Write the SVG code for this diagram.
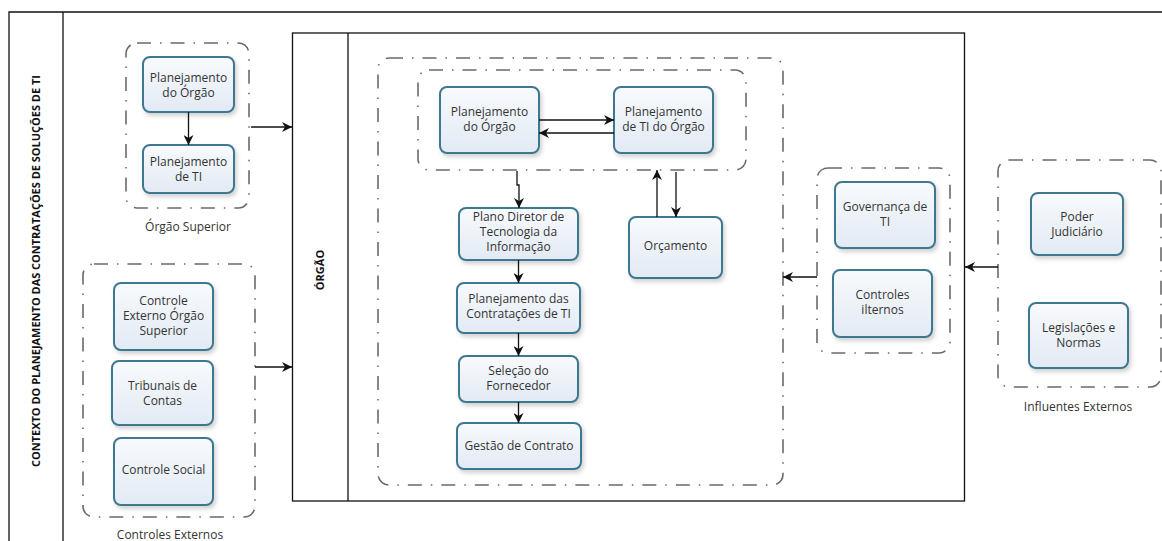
<svg xmlns="http://www.w3.org/2000/svg" width="1162" height="541" viewBox="0 0 1162 541">
<defs>
<linearGradient id="nf" x1="0" y1="0" x2="0" y2="1">
<stop offset="0" stop-color="#f8fafd"/>
<stop offset="1" stop-color="#e2eaf4"/>
</linearGradient>
<filter id="sh" x="-10%" y="-10%" width="130%" height="140%">
<feDropShadow dx="2" dy="3" stdDeviation="2" flood-color="#000" flood-opacity="0.18"/>
</filter>
<marker id="ah" viewBox="0 0 10 10" refX="10" refY="5" markerWidth="10" markerHeight="10" markerUnits="userSpaceOnUse" orient="auto">
<path d="M0,0 L10,5 L0,10 L3,5 Z" fill="#111"/>
</marker>
</defs>
<style>
.frame{fill:none;stroke:#111;stroke-width:1.3}
.grp{fill:none;stroke:#6a6a6a;stroke-width:1.6;stroke-dasharray:14 9 1.5 9}
.node rect{fill:url(#nf);stroke:#3d7890;stroke-width:2;filter:url(#sh)}
.node text,.lbl{font-family:"Open Sans","Noto Sans",sans-serif;font-size:12px;fill:#333;text-anchor:middle}
.title{font-family:"Open Sans","Noto Sans",sans-serif;font-size:11px;font-weight:bold;fill:#111;text-anchor:middle}
.conn path{fill:none;stroke:#111;stroke-width:1.3;marker-end:url(#ah)}
</style>
<rect width="1162" height="541" fill="#fff"/>

<g id="frame">
<path class="frame" d="M1170,12 H9 V550"/>
<line class="frame" x1="63" y1="12" x2="63" y2="550"/>
<text class="title" transform="translate(40,271) rotate(-90)" textLength="392" lengthAdjust="spacingAndGlyphs">CONTEXTO DO PLANEJAMENTO DAS CONTRATAÇÕES DE SOLUÇÕES DE TI</text>
</g>

<g id="orgao">
<rect class="frame" x="292.5" y="33" width="672" height="468"/>
<line class="frame" x1="348" y1="33" x2="348" y2="501"/>
<text class="title" transform="translate(324,270) rotate(-90)">ÓRGÃO</text>
</g>

<g id="grp-orgao-superior">
<rect class="grp" x="126" y="43" width="123" height="165" rx="11"/>
<text class="lbl" x="188" y="231">Órgão Superior</text>
</g>
<g id="grp-controles-externos">
<rect class="grp" x="83" y="264" width="172" height="253" rx="11"/>
<text class="lbl" x="170" y="539">Controles Externos</text>
</g>
<g id="grp-orgao-inner">
<rect class="grp" x="378" y="58" width="405" height="427" rx="11"/>
</g>
<g id="grp-planejamento">
<rect class="grp" x="418" y="70" width="328" height="100" rx="11"/>
</g>
<g id="grp-controles-internos">
<rect class="grp" x="817" y="168" width="133" height="185" rx="11"/>
</g>
<g id="grp-influentes">
<rect class="grp" x="998" y="160" width="163" height="227" rx="11"/>
<text class="lbl" x="1078" y="411">Influentes Externos</text>
</g>

<g id="n-sup-plan-orgao" class="node">
<rect x="143" y="57" width="91" height="55" rx="7"/>
<text x="188.5" y="82">Planejamento</text><text x="188.5" y="97">do Órgão</text>
</g>
<g id="n-sup-plan-ti" class="node">
<rect x="143" y="145" width="91" height="48" rx="7"/>
<text x="188.5" y="166">Planejamento</text><text x="188.5" y="181">de TI</text>
</g>
<g id="n-controle-externo" class="node">
<rect x="114" y="283" width="99" height="67" rx="7"/>
<text x="163.5" y="305">Controle</text><text x="163.5" y="320">Externo Órgão</text><text x="163.5" y="335">Superior</text>
</g>
<g id="n-tribunais" class="node">
<rect x="112" y="361" width="101" height="64" rx="7"/>
<text x="162.5" y="390">Tribunais de</text><text x="162.5" y="405">Contas</text>
</g>
<g id="n-controle-social" class="node">
<rect x="114" y="438" width="99" height="67" rx="7"/>
<text x="163.5" y="474">Controle Social</text>
</g>
<g id="n-plan-orgao" class="node">
<rect x="440" y="87" width="99" height="66" rx="7"/>
<text x="489.5" y="116">Planejamento</text><text x="489.5" y="131">do Órgão</text>
</g>
<g id="n-plan-ti-orgao" class="node">
<rect x="614" y="87" width="99" height="66" rx="7"/>
<text x="663.5" y="116">Planejamento</text><text x="663.5" y="131">de TI do Órgão</text>
</g>
<g id="n-pdti" class="node">
<rect x="459" y="208" width="119" height="52" rx="7"/>
<text x="518.5" y="221">Plano Diretor de</text><text x="518.5" y="236">Tecnologia da</text><text x="518.5" y="251">Informação</text>
</g>
<g id="n-orcamento" class="node">
<rect x="629" y="217" width="93" height="61" rx="7"/>
<text x="675.5" y="250">Orçamento</text>
</g>
<g id="n-plan-contratacoes" class="node">
<rect x="457" y="283" width="123" height="50" rx="7"/>
<text x="518.5" y="303">Planejamento das</text><text x="518.5" y="318">Contratações de TI</text>
</g>
<g id="n-selecao" class="node">
<rect x="459" y="356" width="119" height="46" rx="7"/>
<text x="518.5" y="375">Seleção do</text><text x="518.5" y="390">Fornecedor</text>
</g>
<g id="n-gestao" class="node">
<rect x="457" y="423" width="124" height="46" rx="7"/>
<text x="519" y="450">Gestão de Contrato</text>
</g>
<g id="n-governanca" class="node">
<rect x="835" y="182" width="100" height="66" rx="7"/>
<text x="885" y="211">Governança de</text><text x="885" y="226">TI</text>
</g>
<g id="n-controles-internos" class="node">
<rect x="833" y="270" width="99" height="67" rx="7"/>
<text x="882.5" y="299">Controles</text><text x="882.5" y="314">ilternos</text>
</g>
<g id="n-poder" class="node">
<rect x="1031" y="193" width="92" height="62" rx="7"/>
<text x="1077" y="221">Poder</text><text x="1077" y="236">Judiciário</text>
</g>
<g id="n-legislacoes" class="node">
<rect x="1029" y="303" width="99" height="65" rx="7"/>
<text x="1078.5" y="332">Legislações e</text><text x="1078.5" y="347">Normas</text>
</g>

<g id="connectors" class="conn">
<path d="M188.5,112 V145"/>
<path d="M251,127 H292"/>
<path d="M255,367 H292"/>
<path d="M539,120 H614"/>
<path d="M614,133 H539"/>
<path d="M517,171 V185 H519 V208"/>
<path d="M657,217 V170"/>
<path d="M676,172 V217"/>
<path d="M518.5,260 V283"/>
<path d="M518.5,333 V356"/>
<path d="M518.5,402 V423"/>
<path d="M817,277 H783"/>
<path d="M998,267 H965"/>
</g>
</svg>
